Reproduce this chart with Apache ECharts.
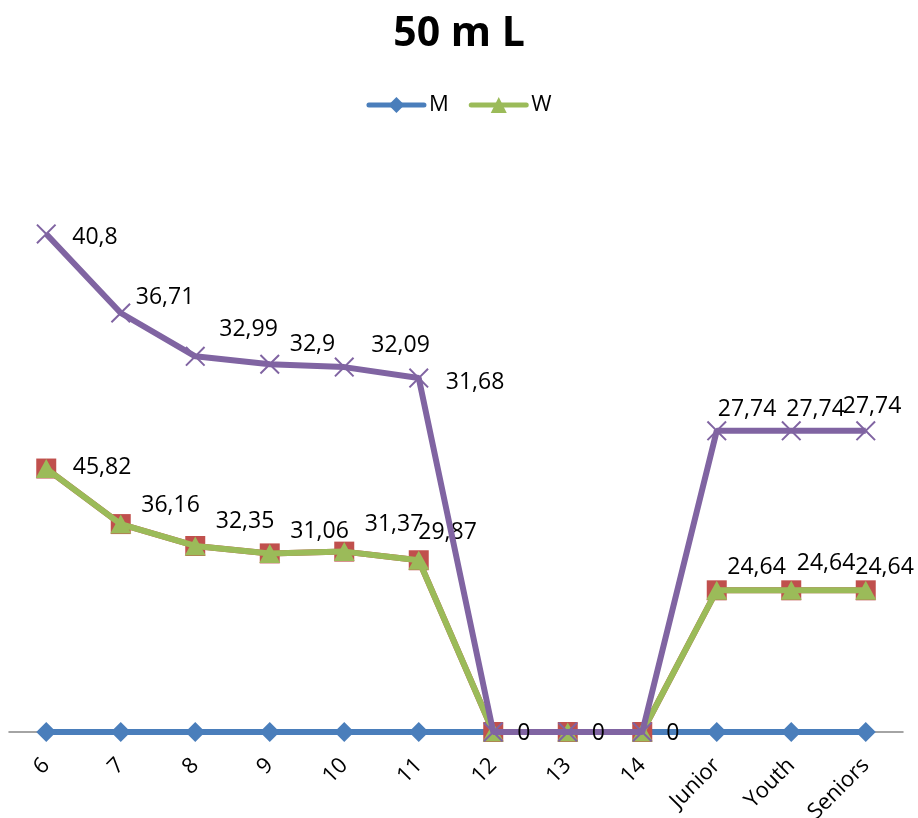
<!DOCTYPE html>
<html><head><meta charset="utf-8">
<script src="https://cdn.jsdelivr.net/npm/echarts@6/dist/echarts.min.js"></script>
<style>html,body{margin:0;padding:0;background:#fff}#c{width:918px;height:818px}</style>
</head><body><div id="c"></div>
<script>
// ---- data ----
const categories = ['6','7','8','9','10','11','12','13','14','Junior','Youth','Seniors'];
const mValues  = [0,0,0,0,0,0,0,0,0,0,0,0];
const wValues  = [45.82,36.16,32.35,31.06,31.37,29.87,0,0,0,24.64,24.64,24.64];
const s3Values = [0,0,0,0,0,0,0,0,0,0,0,0];
const s4Values = [40.8,36.71,32.99,32.9,32.09,31.68,0,0,0,27.74,27.74,27.74];
const titleText = '50 m L';
const legendNames = ['M','W'];

// ---- label placement (style only) ----
const wLabelShift  = [[26,-1],[20,-19],[20,-25],[20,-22],[20,-27],[-1,-28],[24,1],[24,1],[24,1],[10,-23],[5,-27],[-11,-23]];
const s4LabelShift = [[26,4],[15,-16],[24,-27],[20,-20],[27,-22],[27,4],[24,1],[24,1],[24,1],[1,-21],[-5,-21],[-23,-24]];

const FONT = 'Open Sans';
const fmt = v => String(v).replace('.', ',');
function items(vals, shift, half) {
  return vals.map((v, i) => ({ value: v, label: { offset: [shift[i][0] - half, shift[i][1]] } }));
}
const xPath = 'path://M1.4,0 L10,8.6 L18.6,0 L20,1.4 L11.4,10 L20,18.6 L18.6,20 L10,11.4 L1.4,20 L0,18.6 L8.6,10 L0,1.4 Z';

const chart = echarts.init(document.getElementById('c'));
chart.setOption({
  animation: false,
  backgroundColor: '#fff',
  title: { text: titleText, left: 'center', top: 9,
    textStyle: { fontFamily: FONT, fontWeight: 'bold', fontSize: 41, color: '#000' } },
  legend: { data: legendNames, top: 89, left: 'center', itemWidth: 55, itemHeight: 20, itemGap: 20,
    lineStyle: { width: 5, cap: 'round' },
    textStyle: { fontFamily: FONT, fontSize: 22, color: '#000' } },
  grid: { left: 9, right: 15, top: 157, bottom: 86, containLabel: false, outerBoundsMode: 'none' },
  xAxis: { type: 'category', data: categories, boundaryGap: true,
    axisLine: { lineStyle: { color: '#868686', width: 1.5 } },
    axisTick: { show: false },
    axisLabel: { rotate: 45, margin: 30, interval: 0, fontFamily: FONT, fontSize: 22, color: '#000' } },
  yAxis: { type: 'value', min: 0, max: 100, show: false, splitLine: { show: false } },
  series: [
    { name: 'M', type: 'line', stack: 'all', data: mValues, z: 2,
      symbol: 'diamond', symbolSize: 20, showAllSymbol: true,
      itemStyle: { color: '#4A7EBB' }, lineStyle: { color: '#4A7EBB', width: 6 } },
    { name: 'W', type: 'line', stack: 'all', data: items(wValues, wLabelShift, 10), z: 4,
      symbol: 'triangle', symbolSize: [21, 19], showAllSymbol: true,
      itemStyle: { color: '#9BBB59' }, lineStyle: { color: '#9BBB59', width: 6 },
      label: { show: true, position: 'right', distance: 0, fontFamily: FONT, fontSize: 23, color: '#000',
        formatter: p => (p.value === 0 ? '' : fmt(p.value)) } },
    { name: 'Series3', type: 'line', stack: 'all', data: s3Values, z: 3,
      symbol: 'rect', symbolSize: 20, showAllSymbol: true,
      itemStyle: { color: '#C0504D' }, lineStyle: { color: '#C0504D', width: 6 } },
    { name: 'Series4', type: 'line', stack: 'all', data: items(s4Values, s4LabelShift, 10), z: 5,
      symbol: xPath, symbolSize: 20, showAllSymbol: true,
      itemStyle: { color: '#8064A2' }, lineStyle: { color: '#8064A2', width: 6 },
      label: { show: true, position: 'right', distance: 0, fontFamily: FONT, fontSize: 23, color: '#000',
        formatter: p => fmt(p.value) } }
  ]
});
</script></body></html>
